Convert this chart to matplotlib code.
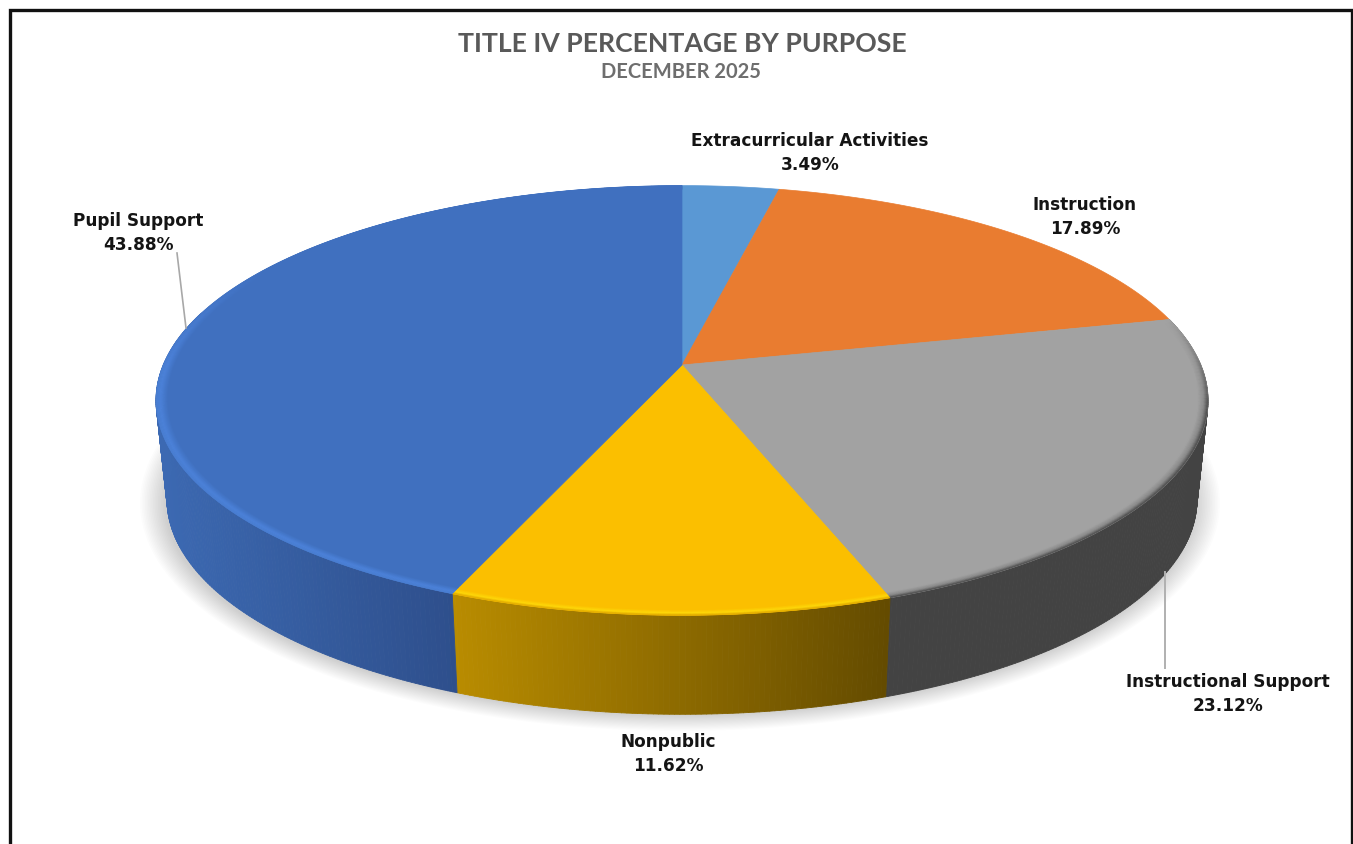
#!/usr/bin/env python3

import numpy as np
import matplotlib
matplotlib.use("Agg")
import matplotlib.pyplot as plt
from matplotlib.collections import PolyCollection
from matplotlib.colors import to_rgb

# Slices, clockwise from twelve o'clock
purposes = ["Extracurricular Activities", "Instruction", "Instructional Support", "Nonpublic", "Pupil Support"]
percentages = [3.49, 17.89, 23.12, 11.62, 43.88]

title = "TITLE IV PERCENTAGE BY PURPOSE"
subtitle = "DECEMBER 2025"

top_colors = ["#5A98D4", "#E97C30", "#A2A2A2", "#FBBF00", "#4070BF"]
# Side wall colours, left end and right end of the visible wall
side_colors = [None, None, ("#434343", "#434343"), ("#B98C00", "#644B00"), ("#3C69B2", "#2E4F8C")]
# Bevel colours from the inside of the rim to its outer edge
rim_stops = [
    None,
    None,
    [(0.982, "#A2A2A2"), (0.992, "#8A8A8A"), (1.0, "#4A4A4A")],
    [(0.982, "#FBBF00"), (0.993, "#FFD90A"), (1.0, "#E0A800")],
    [(0.978, "#4070BF"), (0.992, "#4C82DA"), (1.0, "#4A7ED2")],
]

label_pos = [(810, 153), (1085, 217), (1228, 694), (668, 754), (138, 233)]

# Perspective of the disc on the canvas, in pixels
CX, CY = 682, 365
A, B, P = 518.8, 209.0, 0.165
DEPTH = 99
LOWER_SCALE = 515 / 526


def project(theta, r=1.0, lower=False):
    # theta in degrees clockwise from the top, r as fraction of the radius
    t = np.radians(theta)
    X = r * np.sin(t)
    Z = r * np.cos(t)
    w = 1 + P * Z
    x = A * X / w
    y = B * Z / w
    if lower:
        return CX + x * LOWER_SCALE, CY - y + DEPTH
    return CX + x, CY - y


def mix(c1, c2, f):
    c1, c2 = np.array(to_rgb(c1)), np.array(to_rgb(c2))
    return tuple(c1 + (c2 - c1) * f)


def stop_color(stops, r):
    rs = [s[0] for s in stops]
    rgb = np.array([to_rgb(s[1]) for s in stops])
    return tuple(np.interp(r, rs, rgb[:, k]) for k in range(3))


def draw_shadow(ax):
    t = np.linspace(0, 2 * np.pi, 360)
    for i in range(16):
        grow = 1 - i / 16
        rx = 514 + 26 * grow
        ry = 211 + 17 * grow
        ax.fill(680 + rx * np.cos(t), 503 + ry * np.sin(t), color="black", alpha=0.011, lw=0, zorder=1)


def draw_walls(ax, edges):
    for i, (start, end) in enumerate(zip(edges[:-1], edges[1:])):
        if side_colors[i] is None:
            continue
        lo, hi = max(start, 75), min(end, 285)
        if lo >= hi:
            continue
        angles = np.arange(lo, hi + 0.5, 0.5)
        angles[-1] = hi
        quads, cols = [], []
        x_ends = [project(lo)[0], project(hi)[0]]
        x_min, x_max = min(x_ends), max(x_ends)
        # wall of the big slice runs on to its silhouette
        if hi > 255:
            x_min = project(260)[0]
        for a0, a1 in zip(angles[:-1], angles[1:]):
            x0, y0 = project(a0)
            x1, y1 = project(a1)
            x2, y2 = project(a1, lower=True)
            x3, y3 = project(a0, lower=True)
            quads.append([(x0, y0), (x1, y1), (x2, y2), (x3, y3)])
            f = np.clip(((x0 + x1) / 2 - x_min) / (x_max - x_min), 0, 1)
            cols.append(mix(side_colors[i][0], side_colors[i][1], f))
        ax.add_collection(PolyCollection(quads, facecolors=cols, edgecolors=cols, linewidths=0.6, zorder=2))


def draw_top(ax, edges):
    for i, (start, end) in enumerate(zip(edges[:-1], edges[1:])):
        angles = np.linspace(start, end, 200)
        x, y = project(angles)
        ax.fill(np.r_[CX, x], np.r_[CY, y], color=top_colors[i], lw=0.5, zorder=3)


def rim_strength(theta):
    # rim highlight fades out towards the back of the disc
    return np.clip((theta - 77) / 25, 0, 1) * np.clip((300 - theta) / 30, 0, 1)


def draw_rim(ax, edges):
    radii = np.linspace(0.975, 1.0, 13)
    for i, (start, end) in enumerate(zip(edges[:-1], edges[1:])):
        if rim_stops[i] is None:
            continue
        angles = np.arange(start, end + 1, 1.0)
        angles[-1] = min(angles[-1], end)
        quads, cols = [], []
        for r0, r1 in zip(radii[:-1], radii[1:]):
            band = stop_color(rim_stops[i], (r0 + r1) / 2)
            for a0, a1 in zip(angles[:-1], angles[1:]):
                quads.append([project(a0, r0), project(a1, r0), project(a1, r1), project(a0, r1)])
                cols.append(mix(top_colors[i], band, rim_strength((a0 + a1) / 2)))
        ax.add_collection(PolyCollection(quads, facecolors=cols, edgecolors=cols, linewidths=0.3, zorder=4))


def main():
    fig = plt.figure(figsize=(13.53, 8.44), dpi=100, facecolor="white")
    ax = fig.add_axes([0, 0, 1, 1])
    ax.set_xlim(0, 1353)
    ax.set_ylim(844, 0)
    ax.axis("off")

    edges = np.r_[0, np.cumsum(percentages)] / np.sum(percentages) * 360

    draw_shadow(ax)
    draw_walls(ax, edges)
    draw_top(ax, edges)
    draw_rim(ax, edges)

    # Leader lines
    ax.plot([177, 186], [253, 328], color="#A8A8A8", lw=1.2, zorder=5)
    ax.plot([1165, 1165], [572, 668], color="#B0B0B0", lw=1.4, zorder=5)

    # Outer frame, open at the bottom
    ax.plot([10, 10, 1351.5, 1351.5], [846, 9.5, 9.5, 846], color="#111111", lw=2.4, zorder=6,
            solid_joinstyle="miter")

    ax.text(682, 44, title, ha="center", va="center", fontsize=19.2, fontweight="bold",
            family="Lato", color="#595959")
    ax.text(681, 72, subtitle, ha="center", va="center", fontsize=14.5, fontweight="bold",
            family="Lato", color="#6E6E6E")

    for name, value, (x, y) in zip(purposes, percentages, label_pos):
        ax.text(x, y, f"{name}\n{value:.2f}%", ha="center", va="center", fontsize=12.2,
                fontweight="bold", family="DejaVu Sans", color="#141414", linespacing=1.45, zorder=7)

    fig.savefig("out.png", dpi=100)


if __name__ == "__main__":
    main()
